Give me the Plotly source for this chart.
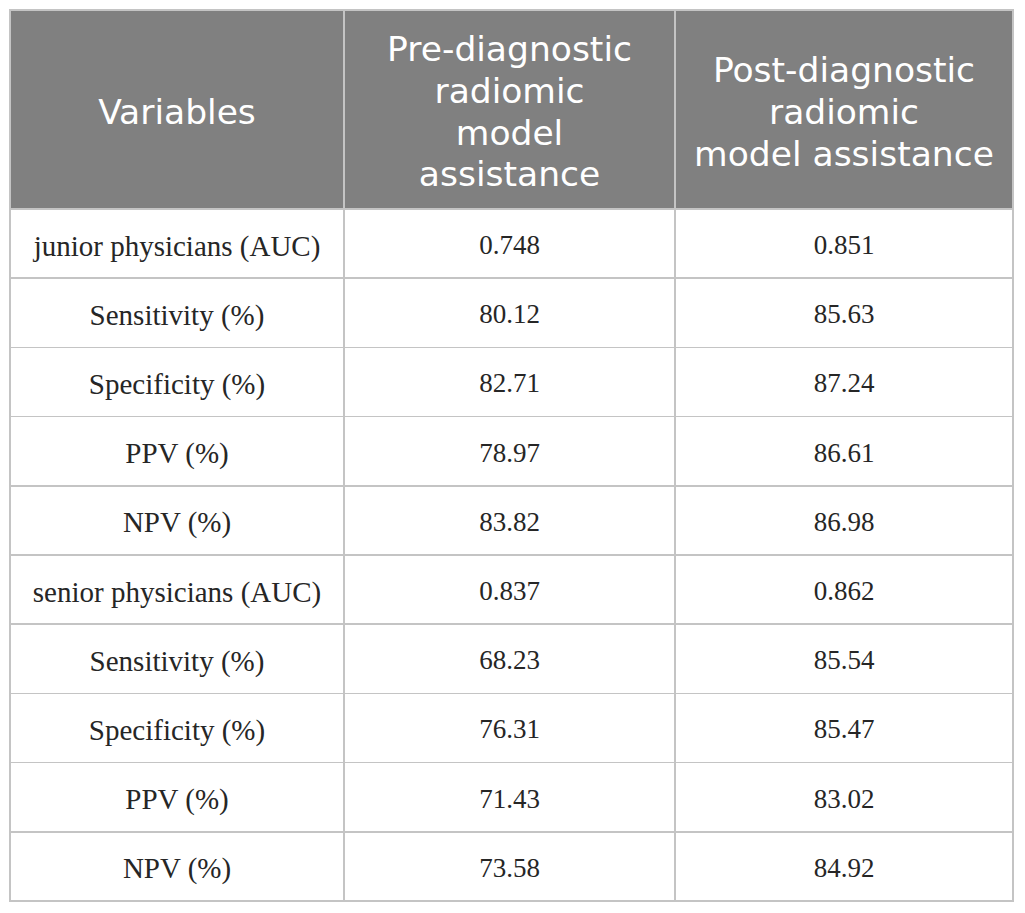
import plotly.graph_objects as go

# table content
header_lines = [['Variables'],
                ['Pre-diagnostic', 'radiomic', 'model', 'assistance'],
                ['Post-diagnostic', 'radiomic', 'model\u00a0assistance']]
variables = ['junior physicians (AUC)', 'Sensitivity (%)', 'Specificity (%)', 'PPV (%)', 'NPV (%)',
             'senior physicians (AUC)', 'Sensitivity (%)', 'Specificity (%)', 'PPV (%)', 'NPV (%)']
pre_model = ['0.748', '80.12', '82.71', '78.97', '83.82',
             '0.837', '68.23', '76.31', '71.43', '73.58']
post_model = ['0.851', '85.63', '87.24', '86.61', '86.98',
              '0.862', '85.54', '85.47', '83.02', '84.92']

W, H = 1025, 913
col_widths = [334, 331, 338]
head_h = 199        # grey header block
row_h = 69.2        # body rows
top = 10            # page y of the table top
off = 8             # plotly draws the table a few px inside its domain

head_fs = 34.5
body_fs = [29, 27, 27]
n_slots = 19             # header text sits on quarter-line slots
start_slot = [6, 0, 2]   # vertical centering of each header column


def frac(y):
    return 1 - y / H


# header text: one header row per slot so every line is centred on its own
header_rows = []
for lines, s0 in zip(header_lines, start_slot):
    col = [''] * n_slots
    for i, line in enumerate(lines):
        col[s0 + 4 * i] = line
    header_rows.append(col)

# plotly puts a single line's baseline 8px + 0.75em below the cell top
text_top = 61 - (8 + 0.75 * head_fs)                           # first header baseline at y=61
body_top = top + head_h + 45 - (8 + 0.75 * 27)                 # body baselines 45px into a row
slot_h = (body_top - text_top) / n_slots

fig = go.Figure()

# grid: fills and rules, no text
fig.add_trace(go.Table(
    columnwidth=col_widths,
    domain=dict(x=[0, 1], y=[0, frac(top - off)]),
    header=dict(values=[''] * 3, height=head_h, fill_color='#808080',
                line=dict(color='#c4c4c4', width=1.5)),
    cells=dict(values=[[''] * len(variables)] * 3, height=row_h, fill_color='white',
               line=dict(color='#c4c4c4', width=1.5)),
))

# text layer on top, transparent
fig.add_trace(go.Table(
    columnwidth=col_widths,
    domain=dict(x=[0, 1], y=[0, frac(text_top - off)]),
    header=dict(values=header_rows, height=slot_h, fill_color='rgba(0,0,0,0)',
                line=dict(color='rgba(0,0,0,0)', width=0), align='center',
                font=dict(family='DejaVu Sans', size=head_fs, color='white')),
    cells=dict(values=[variables, pre_model, post_model], height=row_h,
               fill_color='rgba(0,0,0,0)', line=dict(color='rgba(0,0,0,0)', width=0),
               align='center',
               font=dict(family='Liberation Serif', size=body_fs, color='#262626')),
))

fig.update_layout(width=W, height=H, margin=dict(l=2, r=20, t=0, b=0),
                  paper_bgcolor='white')
fig.write_html('out.html')
